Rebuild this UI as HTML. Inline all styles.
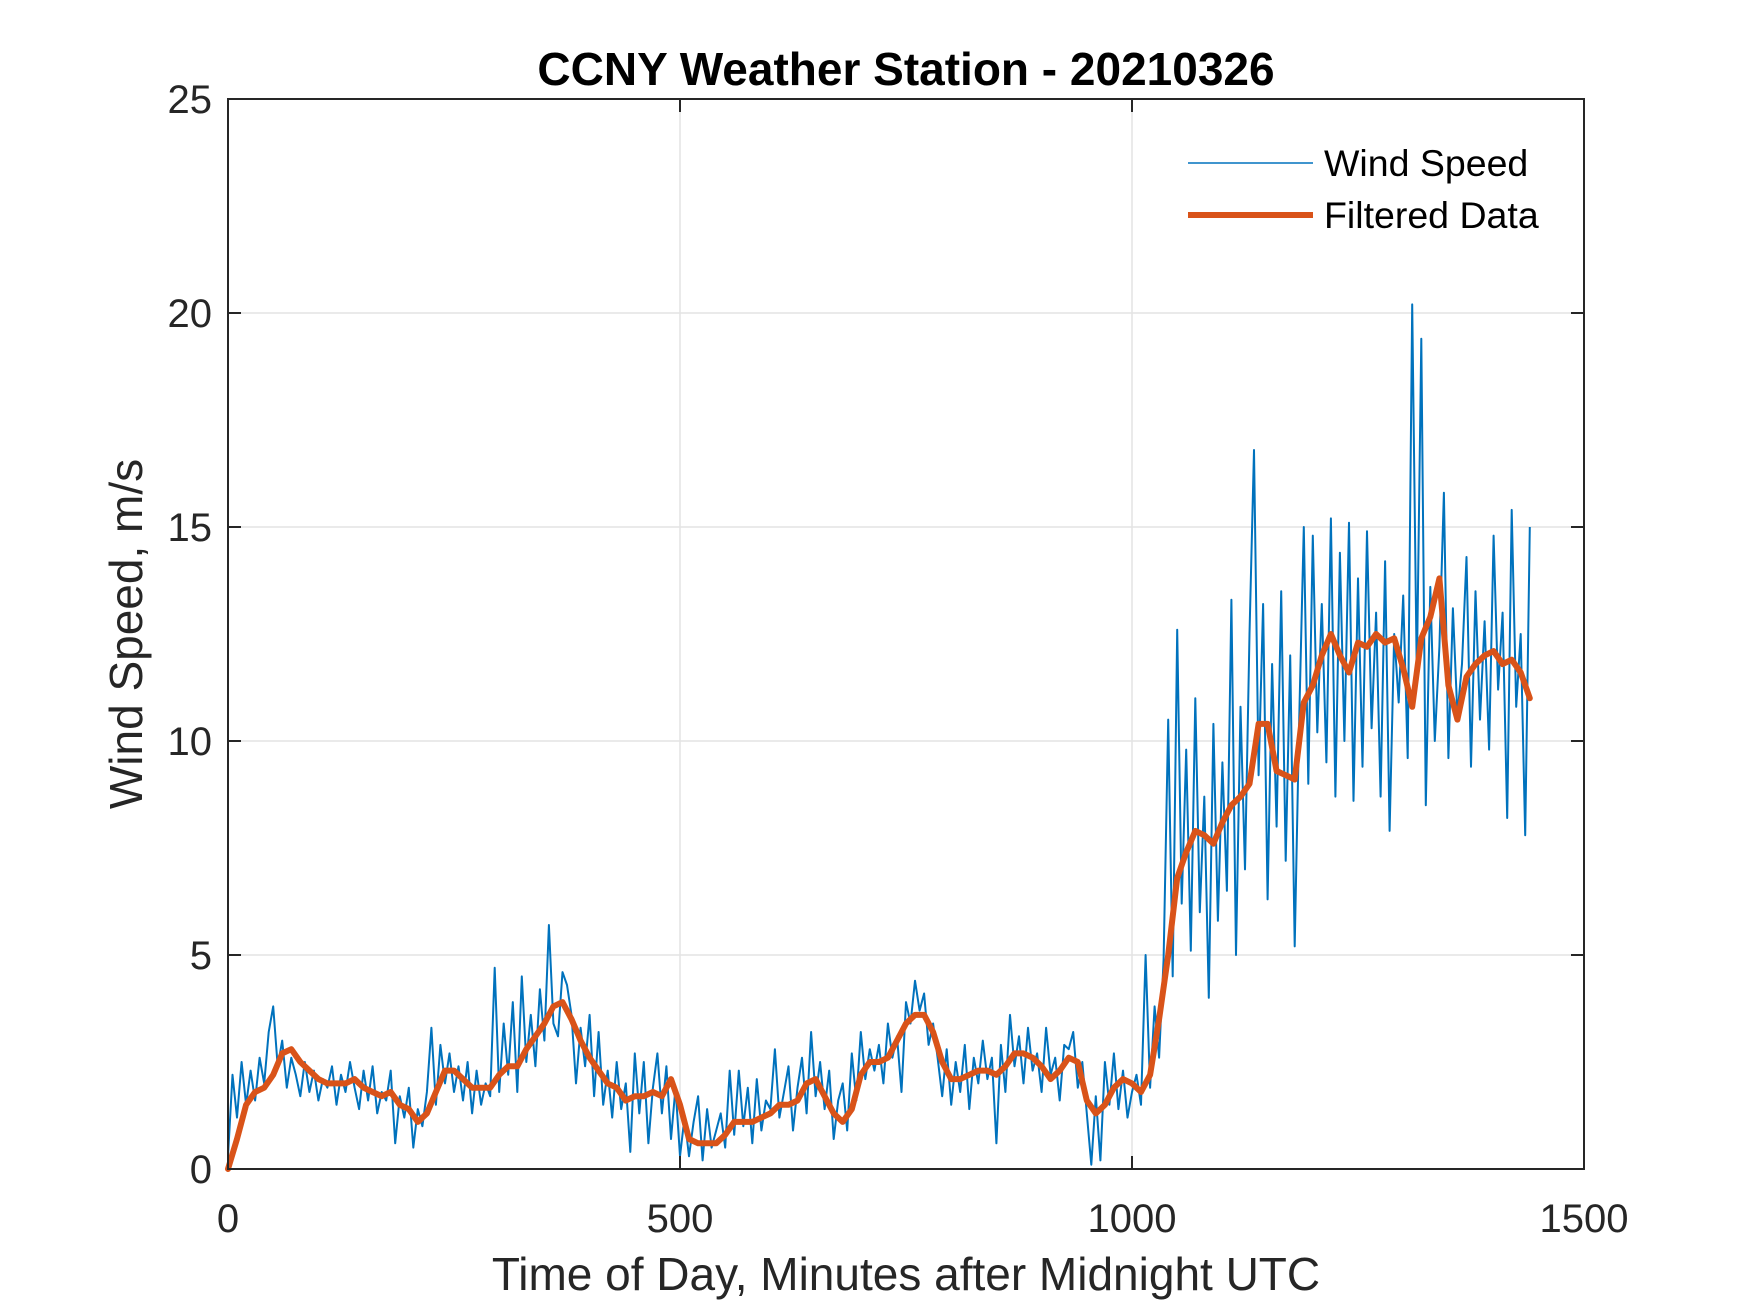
<!DOCTYPE html>
<html><head><meta charset="utf-8"><style>
html,body{margin:0;padding:0;background:#fff}
svg{display:block}
text{font-family:"Liberation Sans",Arial,sans-serif;fill:#262626}
</style></head><body>
<svg id="chart" width="1750" height="1313" viewBox="0 0 1750 1313" xmlns="http://www.w3.org/2000/svg">
<rect width="1750" height="1313" fill="#fff"/>
<g id="grid"></g>
<g id="series"></g>
<rect x="228" y="99" width="1356" height="1070" fill="none" stroke="#262626" stroke-width="2"/>
<g id="ticks"></g>
<text x="906" y="85" text-anchor="middle" font-size="46" font-weight="bold" style="fill:#000">CCNY Weather Station - 20210326</text>
<text x="906" y="1290" text-anchor="middle" font-size="46">Time of Day, Minutes after Midnight UTC</text>
<text transform="translate(142,634) rotate(-90)" text-anchor="middle" font-size="46">Wind Speed, m/s</text>
<g>
<line x1="1188" y1="163" x2="1313" y2="163" stroke="#0072BD" stroke-width="1.6"/>
<text x="1324" y="176" font-size="37.5" style="fill:#000">Wind Speed</text>
<line x1="1188" y1="215" x2="1313" y2="215" stroke="#D95319" stroke-width="6"/>
<text x="1324" y="228" font-size="37.5" style="fill:#000">Filtered Data</text>
</g>
</svg>
<script>
const xTicks = [0, 500, 1000, 1500];
const yTicks = [0, 5, 10, 15, 20, 25];
const windStep = 5;
const windSpeed = [
0.3,2.2,1.2,2.5,1.5,2.3,1.6,2.6,2.0,3.2,3.8,2.4,
3.0,1.9,2.6,2.2,1.7,2.5,1.8,2.3,1.6,2.1,1.9,2.4,
1.5,2.2,1.8,2.5,1.9,1.4,2.3,1.6,2.4,1.3,1.8,1.6,
2.3,0.6,1.7,1.2,1.9,0.5,1.4,1.0,1.8,3.3,1.5,2.9,
2.0,2.7,1.8,2.4,1.6,2.5,1.3,2.3,1.5,2.0,1.7,4.7,
1.8,3.4,2.2,3.9,1.8,4.5,2.5,3.6,2.4,4.2,3.0,5.7,
3.4,3.1,4.6,4.3,3.6,2.0,3.3,2.4,3.6,1.7,3.2,1.5,
2.3,1.2,2.5,1.4,2.0,0.4,2.7,1.3,2.5,0.6,1.9,2.7,
1.3,2.4,0.7,1.9,0.3,1.2,0.3,1.1,1.7,0.2,1.4,0.5,
0.9,1.3,0.5,2.3,0.8,2.3,1.0,1.9,0.6,2.1,0.9,1.6,
1.4,2.8,1.2,1.8,2.4,0.9,1.9,2.6,1.3,3.2,1.7,2.5,
1.4,2.3,0.7,1.6,2.0,0.9,2.7,1.6,3.2,2.1,2.8,2.3,
2.9,2.0,3.4,2.6,3.1,1.8,3.9,3.4,4.4,3.7,4.1,2.9,
3.4,2.6,1.7,2.8,1.5,2.5,1.8,2.9,1.4,2.6,2.0,3.0,
2.1,2.6,0.6,2.9,1.8,3.6,2.4,3.1,2.0,3.3,2.3,2.7,
1.8,3.3,2.2,2.6,1.6,2.9,2.8,3.2,1.9,2.5,1.3,0.1,
1.7,0.2,2.5,1.5,2.7,1.4,2.3,1.2,1.8,2.2,1.5,5.0,
1.9,3.8,2.6,4.9,10.5,4.5,12.6,6.2,9.8,5.1,11.0,6.0,
8.7,4.0,10.4,5.8,9.5,6.5,13.3,5.0,10.8,7.0,12.5,16.8,
9.2,13.2,6.3,11.8,8.0,13.5,7.2,12.0,5.2,10.5,15.0,9.0,
14.8,10.2,13.2,9.5,15.2,8.7,14.4,10.0,15.1,8.6,13.8,9.4,
14.9,10.3,13.0,8.7,14.2,7.9,12.5,10.9,13.4,9.6,20.2,11.5,
19.4,8.5,13.6,10.0,12.2,15.8,9.6,13.1,10.6,11.8,14.3,9.4,
13.5,10.5,12.8,9.8,14.8,11.2,13.0,8.2,15.4,10.8,12.5,7.8,
15.0];
const filtStep = 10;
const filtered = [
0,0.7,1.5,1.8,1.9,2.2,2.7,2.8,2.5,2.3,2.1,2.0,
2.0,2.0,2.1,1.9,1.8,1.7,1.8,1.5,1.4,1.1,1.3,1.8,
2.3,2.3,2.1,1.9,1.9,1.9,2.2,2.4,2.4,2.8,3.1,3.4,
3.8,3.9,3.5,3.0,2.6,2.3,2.0,1.9,1.6,1.7,1.7,1.8,
1.7,2.1,1.5,0.7,0.6,0.6,0.6,0.8,1.1,1.1,1.1,1.2,
1.3,1.5,1.5,1.6,2.0,2.1,1.7,1.3,1.1,1.4,2.2,2.5,
2.5,2.6,3.0,3.4,3.6,3.6,3.2,2.5,2.1,2.1,2.2,2.3,
2.3,2.2,2.4,2.7,2.7,2.6,2.4,2.1,2.3,2.6,2.5,1.6,
1.3,1.5,1.9,2.1,2.0,1.8,2.2,3.5,5.0,6.8,7.4,7.9,
7.8,7.6,8.1,8.5,8.7,9.0,10.4,10.4,9.3,9.2,9.1,10.9,
11.3,12.0,12.5,12.0,11.6,12.3,12.2,12.5,12.3,12.4,11.7,10.8,
12.4,12.9,13.8,11.3,10.5,11.5,11.8,12.0,12.1,11.8,11.9,11.6,
11.0];

const L=228,R=1584,T=99,B=1169;
function sx(t){return L+(t-0)/(1500-0)*(R-L);}
function sy(v){return B-(v-0)/(25-0)*(B-T);}
const NS='http://www.w3.org/2000/svg';
function mk(tag,attrs,parent){const e=document.createElementNS(NS,tag);for(const k in attrs)e.setAttribute(k,attrs[k]);parent.appendChild(e);return e;}
const grid=document.getElementById('grid'),ticks=document.getElementById('ticks'),series=document.getElementById('series');
xTicks.forEach(t=>{
  const x=sx(t);
  const g=mk('line',{x1:x,y1:T,x2:x,y2:B,stroke:'#e3e3e3','stroke-width':1.5},grid);
  
  
  const a=mk('line',{x1:x,y1:B,x2:x,y2:B-13,stroke:'#262626','stroke-width':2},ticks);
  
  
  const b=mk('line',{x1:x,y1:T,x2:x,y2:T+13,stroke:'#262626','stroke-width':2},ticks);
  
  
  const tx=mk('text',{x:x,y:B+63,'text-anchor':'middle','font-size':40},ticks);
  tx.textContent=t;
  
  
});
yTicks.forEach(v=>{
  const y=sy(v);
  const g=mk('line',{x1:L,y1:y,x2:R,y2:y,stroke:'#e3e3e3','stroke-width':1.5},grid);
  
  
  const a=mk('line',{x1:L,y1:y,x2:L+13,y2:y,stroke:'#262626','stroke-width':2},ticks);
  
  
  const b=mk('line',{x1:R,y1:y,x2:R-13,y2:y,stroke:'#262626','stroke-width':2},ticks);
  
  
  const tx=mk('text',{x:L-16,y:y+14,'text-anchor':'end','font-size':40},ticks);
  tx.textContent=v;
  
  
});
const wp=windSpeed.map((v,i)=>sx(i*windStep).toFixed(1)+','+sy(v).toFixed(1)).join(' ');
const w=mk('polyline',{points:wp,fill:'none',stroke:'#0072BD','stroke-width':2,'stroke-linejoin':'round'},series);


const fp=filtered.map((v,i)=>sx(i*filtStep).toFixed(1)+','+sy(v).toFixed(1)).join(' ');
const f=mk('polyline',{points:fp,fill:'none',stroke:'#D95319','stroke-width':6,'stroke-linejoin':'round','stroke-linecap':'round'},series);


</script>
</body></html>
